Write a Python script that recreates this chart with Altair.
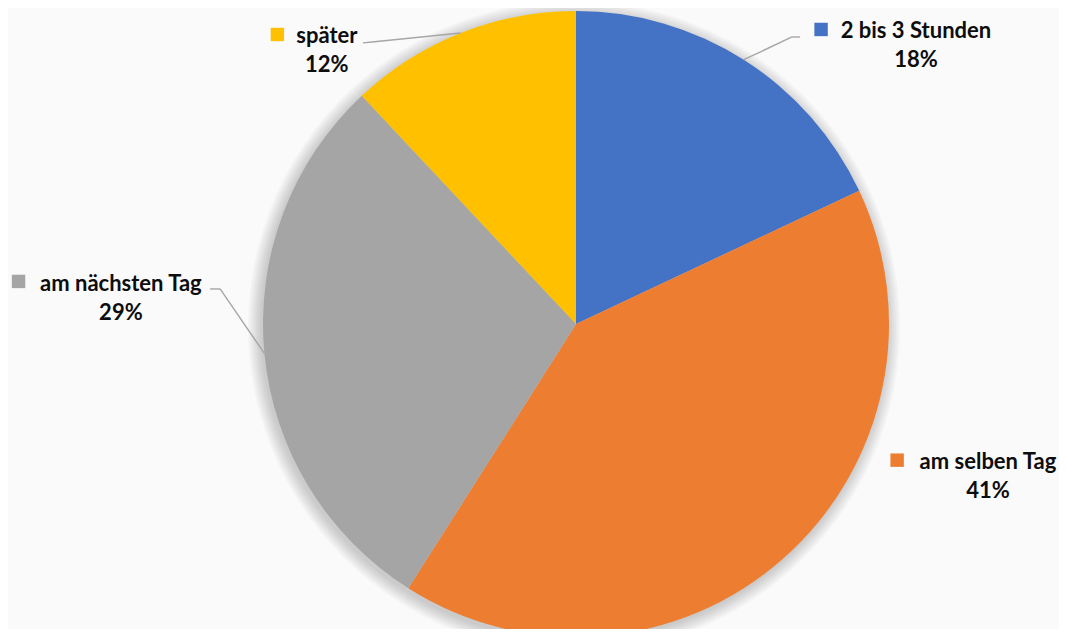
import math
import altair as alt
import pandas as pd

# ---- data ----
categories = ["2 bis 3 Stunden", "am selben Tag", "am nächsten Tag", "später"]
shares = [18, 41, 29, 12]
colors = ["#4472C4", "#ED7D31", "#A5A5A5", "#FFC000"]

# ---- annotation layout (in pie-radius units, relative to pie centre, y up) ----
label_x = [1.086, 1.316, -1.454, -0.796]
name_y = [0.914, -0.463, 0.105, 0.898]
pct_y = [0.821, -0.556, 0.013, 0.805]
square_x = [0.783, 1.026, -1.781, -0.954]
square_y = [0.941, -0.435, 0.136, 0.925]
has_leader = [True, False, True, True]
elbow_x = [0.690, 0.0, -1.137, -0.652]
elbow_y = [0.917, 0.0, 0.112, 0.901]
end_x = [0.716, 0.0, -1.169, -0.681]
end_y = [0.917, 0.0, 0.112, 0.898]

W, H = 1051, 621
CX, CY, R = 568, 316, 313
FONT = "Lato"
FS = 22

df = pd.DataFrame({
    "cat": categories,
    "val": shares,
    "idx": list(range(len(categories))),
    "lx": label_x,
    "ny": name_y,
    "py": pct_y,
    "sx": square_x,
    "sy": square_y,
})
df["pct"] = [f"{v}%" for v in shares]

# leader-line segments start at pie edge at each slice's mid angle
total = sum(shares)
segs = []
cum = 0
for i, v in enumerate(shares):
    mid = (cum + v / 2) / total * 2 * math.pi
    cum += v
    if not has_leader[i]:
        continue
    sx0, sy0 = math.sin(mid), math.cos(mid)
    segs.append({"x": sx0, "y": sy0, "x2": elbow_x[i], "y2": elbow_y[i]})
    segs.append({"x": elbow_x[i], "y": elbow_y[i], "x2": end_x[i], "y2": end_y[i]})
seg_df = pd.DataFrame(segs)

xs = alt.Scale(domain=[-CX / R, (W - CX) / R], nice=False, zero=False)
ys = alt.Scale(domain=[(CY - H) / R, CY / R], nice=False, zero=False)
color_scale = alt.Scale(domain=categories, range=colors)

# soft shadow rings (same slices drawn in translucent black, slightly larger)
shadow_layers = [
    alt.Chart(df).mark_arc(radius=R + k, color="#000000", opacity=0.028, stroke=None).encode(
        theta=alt.Theta("val:Q", stack=True),
        order=alt.Order("idx:Q"),
        x=alt.value(CX - 2),
        y=alt.value(CY + 3),
    )
    for k in (1, 3, 5, 7, 9, 11, 13)
]

pie = alt.Chart(df).mark_arc(radius=R).encode(
    theta=alt.Theta("val:Q", stack=True),
    color=alt.Color("cat:N", scale=color_scale, legend=None),
    order=alt.Order("idx:Q"),
    x=alt.value(CX),
    y=alt.value(CY),
)

leaders = alt.Chart(seg_df).mark_rule(color="#A6A6A6", strokeWidth=1.4).encode(
    x=alt.X("x:Q", scale=xs, axis=None),
    y=alt.Y("y:Q", scale=ys, axis=None),
    x2="x2:Q",
    y2="y2:Q",
)

squares = alt.Chart(df).mark_square(size=180, opacity=1, filled=True).encode(
    x=alt.X("sx:Q", scale=xs, axis=None),
    y=alt.Y("sy:Q", scale=ys, axis=None),
    color=alt.Color("cat:N", scale=color_scale, legend=None),
)

names = alt.Chart(df).mark_text(
    font=FONT, fontSize=FS, fontWeight="bold", color="#0D0D0D",
    align="center", baseline="alphabetic",
).encode(
    x=alt.X("lx:Q", scale=xs, axis=None),
    y=alt.Y("ny:Q", scale=ys, axis=None),
    text="cat:N",
)

pcts = alt.Chart(df).mark_text(
    font=FONT, fontSize=FS, fontWeight="bold", color="#0D0D0D",
    align="center", baseline="alphabetic",
).encode(
    x=alt.X("lx:Q", scale=xs, axis=None),
    y=alt.Y("py:Q", scale=ys, axis=None),
    text="pct:N",
)

chart = alt.layer(*shadow_layers, pie, leaders, squares, names, pcts).properties(
    width=W, height=H, background="#FAFAFA", padding=0,
    autosize=alt.AutoSizeParams(type="none"),
).configure_view(stroke=None)

chart.save("out.html", embed_options={"renderer": "svg", "actions": False})
